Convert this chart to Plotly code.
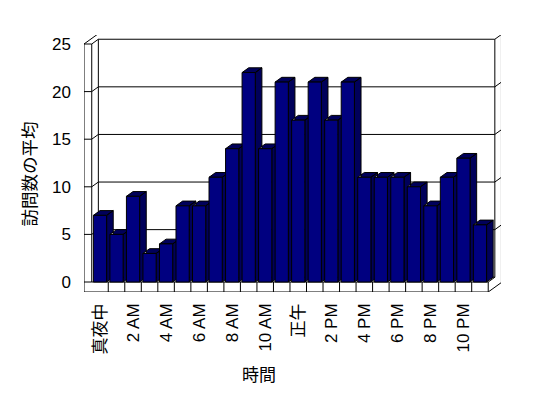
import plotly.graph_objects as go

# ---- data ----
hours = list(range(24))
visits = [7, 5, 9, 3, 4, 8, 8, 11, 14, 22, 14, 21, 17, 21, 17, 21, 11, 11, 11, 10, 8, 11, 13, 6]
tick_hours = [0, 2, 4, 6, 8, 10, 12, 14, 16, 18, 20, 22]
tick_labels = ["真夜中", "2 AM", "4 AM", "6 AM", "8 AM", "10 AM", "正午",
               "2 PM", "4 PM", "6 PM", "8 PM", "10 PM"]
y_ticks = [0, 5, 10, 15, 20, 25]
x_title = "時間"
y_title = "訪問数の平均"

# ---- geometry (layout) ----
OFF = 8                            # page body margin
W, H = 548, 398
L, T = 84 - OFF, 35 - OFF
PW, PH = 417, 257
PX_X, PX_Y = 16.52, 9.52          # pixels per unit
x_lo = -0.9685
x_hi = x_lo + PW / PX_X
y_lo = -1.05
y_hi = y_lo + PH / PX_Y
DX, DY = 0.4, 0.5                  # depth offset (units)
BW = 0.4                           # half width of bar front
XL_IN, XR = -0.5, len(hours) - 0.5
YTOP = max(y_ticks)

FONT = "Liberation Sans, Noto Sans CJK JP"

# ---- frame lines ----
fx, fy = [], []
def seg(pts):
    for p in pts:
        fx.append(p[0]); fy.append(p[1])
    fx.append(None); fy.append(None)

# left wall front face
seg([(x_lo, y_lo), (x_lo, YTOP), (XL_IN, YTOP), (XL_IN, 0)])
# floor front face
seg([(x_lo, y_lo), (XR, y_lo), (XR, 0), (XL_IN, 0)])
for k in range(1, len(hours)):
    seg([(k - 0.5, y_lo), (k - 0.5, 0)])
# left wall top
seg([(x_lo, YTOP), (x_lo + 2 * DX, YTOP + 2 * DY)])
seg([(XL_IN, YTOP), (XL_IN + DX, YTOP + DY)])
# back wall inner face
seg([(XL_IN + DX, DY), (XL_IN + DX, YTOP + DY), (XR + DX, YTOP + DY), (XR + DX, DY), (XL_IN + DX, DY)])
# back wall outer edges
seg([(x_lo + 2 * DX, YTOP + 2 * DY), (XR + 2 * DX, YTOP + 2 * DY), (XR + 2 * DX, y_lo + 2 * DY), (XR, y_lo)])
seg([(XR + DX, YTOP + DY), (XR + 2 * DX, YTOP + 2 * DY)])
seg([(XR, 0), (XR + DX, DY)])
# gridlines
for v in y_ticks[1:-1]:
    seg([(x_lo, v), (XL_IN, v), (XL_IN + DX, v + DY), (XR + DX, v + DY), (XR + 2 * DX, v + 2 * DY)])
seg([(x_lo, 0), (XL_IN, 0)])

# ---- bars ----
dxs, dys, frx, fry = [], [], [], []
for i, v in zip(hours, visits):
    side = [(i + BW, 0), (i + BW + DX, DY), (i + BW + DX, v + DY), (i + BW, v), (i + BW, 0)]
    top = [(i - BW, v), (i - BW + DX, v + DY), (i + BW + DX, v + DY), (i + BW, v), (i - BW, v)]
    for poly in (side, top):
        for p in poly:
            dxs.append(p[0]); dys.append(p[1])
        dxs.append(None); dys.append(None)
    front = [(i - BW, 0), (i + BW, 0), (i + BW, v), (i - BW, v), (i - BW, 0)]
    for p in front:
        frx.append(p[0]); fry.append(p[1])
    frx.append(None); fry.append(None)

fig = go.Figure()
fig.add_trace(go.Scatter(x=fx, y=fy, mode="lines", line=dict(color="black", width=1),
                         hoverinfo="skip", showlegend=False))
fig.add_trace(go.Scatter(x=dxs, y=dys, mode="lines", fill="toself", fillcolor="#00005a",
                         line=dict(color="black", width=1), hoverinfo="skip", showlegend=False))
fig.add_trace(go.Scatter(x=frx, y=fry, mode="lines", fill="toself", fillcolor="#000080",
                         line=dict(color="black", width=1), hoverinfo="skip", showlegend=False))

fig.update_layout(
    template="none",
    width=W, height=H,
    margin=dict(l=L, t=T, r=W - L - PW, b=H - T - PH, pad=0, autoexpand=False),
    paper_bgcolor="white", plot_bgcolor="white",
    font=dict(family=FONT, size=17, color="black"),
    xaxis=dict(range=[x_lo, x_hi], tickvals=tick_hours, ticktext=tick_labels,
               tickangle=-90, showgrid=False, zeroline=False, showline=False,
               ticks="", ticklabelstandoff=7, fixedrange=True, automargin=False),
    yaxis=dict(range=[y_lo, y_hi], tickvals=y_ticks, ticktext=[str(v) for v in y_ticks],
               showgrid=False, zeroline=False, showline=False, ticks="",
               ticklabelstandoff=12, fixedrange=True, automargin=False),
    annotations=[
        dict(text=x_title, xref="paper", yref="paper",
             x=(259 - OFF - L) / PW, y=(T + PH - (375 - OFF)) / PH,
             showarrow=False, xanchor="center", yanchor="middle", font=dict(size=17)),
        dict(text=y_title, xref="paper", yref="paper",
             x=(29 - OFF - L) / PW, y=(T + PH - (173.5 - OFF)) / PH,
             showarrow=False, xanchor="center", yanchor="middle", textangle=-90, font=dict(size=17.5)),
    ],
)

fig.write_html("out.html")
